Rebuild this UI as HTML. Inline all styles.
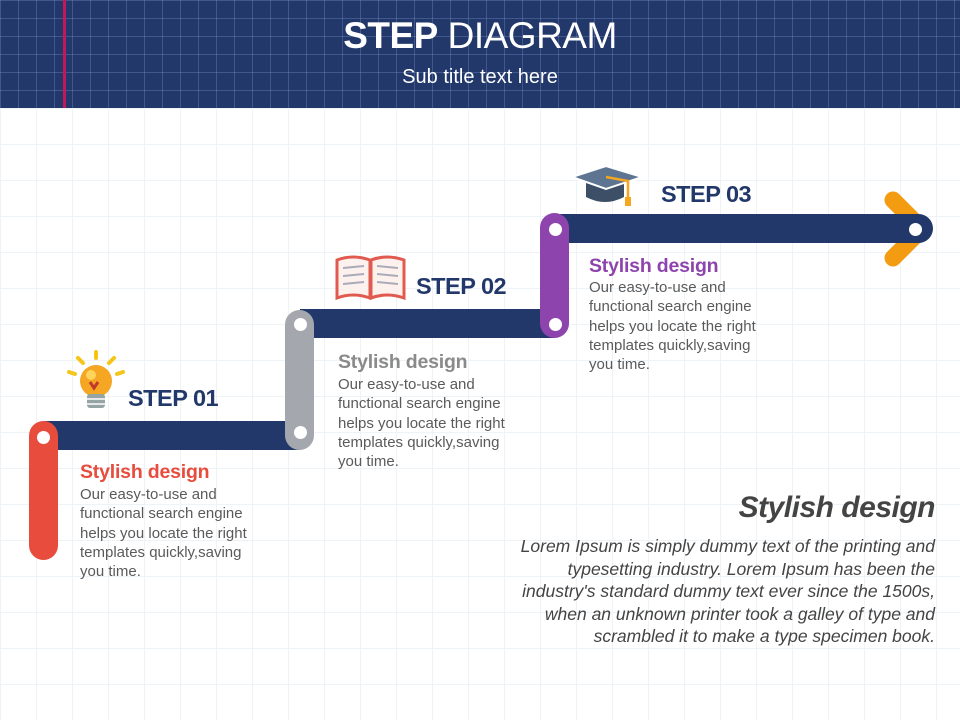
<!DOCTYPE html>
<html><head><meta charset="utf-8"><style>
*{margin:0;padding:0;box-sizing:border-box}
body{width:960px;height:720px;overflow:hidden;position:relative;font-family:"Liberation Sans",sans-serif;
background-color:#fff;
background-image:linear-gradient(#eef3f8 1px,transparent 1px),linear-gradient(90deg,#eef3f8 1px,transparent 1px);
background-size:36px 36px;background-position:0 0}
.hdr{position:absolute;left:0;top:0;width:960px;height:108px;background-color:#22386a;
background-image:linear-gradient(rgba(120,150,200,.35) 1px,transparent 1px),linear-gradient(90deg,rgba(120,150,200,.35) 1px,transparent 1px);
background-size:18px 18px}
.abs{position:absolute}
.bar{position:absolute;background:#22386a}
.v{position:absolute;border-radius:15px;width:29px}
.dot{position:absolute;width:13px;height:13px;border-radius:50%;background:#fff}
.step{position:absolute;font-weight:bold;font-size:23.5px;color:#22386a;letter-spacing:-0.5px}
.h{position:absolute;font-weight:bold;font-size:19.5px;letter-spacing:-0.2px}
.p{position:absolute;font-size:15px;line-height:19.3px;color:#5a5a5a;white-space:nowrap;letter-spacing:0px}
</style></head><body>
<div class="hdr"></div>
<div class="abs" style="left:63px;top:0;width:3px;height:108px;background:#c2185b"></div>
<div class="abs" style="left:0;top:15px;width:960px;text-align:center;color:#fff;font-size:37px;letter-spacing:-0.5px"><b>STEP</b> DIAGRAM</div>
<div class="abs" style="left:0;top:66px;width:960px;text-align:center;color:#fff;font-size:20px">Sub title text here</div>

<div class="bar" style="left:44px;top:421px;width:256px;height:29px"></div>
<div class="bar" style="left:300px;top:309px;width:255px;height:29px"></div>
<svg class="abs" style="left:880px;top:188px" width="60" height="82"><polyline points="13,12 42,41 13,70" fill="none" stroke="#f39c12" stroke-width="17" stroke-linecap="round" stroke-linejoin="round"/></svg>
<div class="bar" style="left:555px;top:214px;width:378px;height:29px;border-radius:0 15px 15px 0"></div>
<div class="v" style="left:29px;top:421px;height:139px;background:#e74c3c"></div>
<div class="v" style="left:285px;top:310px;height:140px;background:#a4a7ae"></div>
<div class="v" style="left:540px;top:213px;height:125px;background:#8e44ad"></div>
<div class="dot" style="left:37px;top:431px"></div>
<div class="dot" style="left:294px;top:318px"></div>
<div class="dot" style="left:294px;top:426px"></div>
<div class="dot" style="left:549px;top:223px"></div>
<div class="dot" style="left:549px;top:318px"></div>
<div class="dot" style="left:909px;top:223px"></div>

<svg class="abs" style="left:64px;top:348px" width="68" height="68">
<g stroke="#f5c518" stroke-width="4" stroke-linecap="round"><line x1="32" y1="4" x2="32" y2="10"/><line x1="14" y1="10" x2="19" y2="15"/><line x1="50" y1="10" x2="45" y2="15"/><line x1="5" y1="24" x2="11" y2="26"/><line x1="59" y1="24" x2="53" y2="26"/></g>
<circle cx="32" cy="33" r="16" fill="#f5a623"/><circle cx="27" cy="27" r="5" fill="#ffd45a"/>
<path d="M26 34l4 6 4-6" stroke="#c0392b" stroke-width="3" fill="none"/>
<rect x="23" y="46" width="18" height="14" rx="3" fill="#95a5a6"/><line x1="23" y1="51" x2="41" y2="51" stroke="#fff" stroke-width="1.5"/><line x1="23" y1="56" x2="41" y2="56" stroke="#fff" stroke-width="1.5"/>
</svg>
<svg class="abs" style="left:333px;top:252px" width="76" height="50">
<path d="M4 8 Q20 2 37 8 L37 46 Q20 40 4 46Z" fill="#fdf1ee" stroke="#e05a4f" stroke-width="3"/>
<path d="M71 8 Q54 2 38 8 L38 46 Q54 40 71 46Z" fill="#fdf1ee" stroke="#e05a4f" stroke-width="3"/>
<g stroke="#aab" stroke-width="2"><line x1="10" y1="16" x2="31" y2="14"/><line x1="10" y1="24" x2="31" y2="22"/><line x1="10" y1="32" x2="31" y2="30"/><line x1="44" y1="14" x2="65" y2="16"/><line x1="44" y1="22" x2="65" y2="24"/><line x1="44" y1="30" x2="65" y2="32"/></g>
</svg>
<svg class="abs" style="left:570px;top:163px" width="80" height="50">
<path d="M16 16 L16 34 Q35 44 54 34 L54 16Z" fill="#3d4f66"/>
<path d="M2 14 L36 3 L72 14 L36 26Z" fill="#5d7590" stroke="#fff" stroke-width="2"/>
<path d="M36 14 L58 18 L58 36" stroke="#f5a623" stroke-width="2.5" fill="none"/>
<rect x="55" y="34" width="6" height="9" fill="#f5a623"/>
</svg>

<div class="step" style="left:128px;top:385px">STEP 01</div>
<div class="step" style="left:416px;top:273px">STEP 02</div>
<div class="step" style="left:661px;top:181px">STEP 03</div>

<div class="h" style="left:80px;top:461px;color:#e74c3c">Stylish design</div>
<div class="p" style="left:80px;top:485px">Our easy-to-use and<br>functional search engine<br>helps you locate the right<br>templates quickly,saving<br>you time.</div>
<div class="h" style="left:338px;top:351px;color:#8a8a8a">Stylish design</div>
<div class="p" style="left:338px;top:375px">Our easy-to-use and<br>functional search engine<br>helps you locate the right<br>templates quickly,saving<br>you time.</div>
<div class="h" style="left:589px;top:255px;color:#8e44ad">Stylish design</div>
<div class="p" style="left:589px;top:278px">Our easy-to-use and<br>functional search engine<br>helps you locate the right<br>templates quickly,saving<br>you time.</div>

<div class="abs" style="right:25px;top:491px;font-size:30px;font-weight:bold;font-style:italic;color:#444;letter-spacing:-0.5px">Stylish design</div>
<div class="abs" style="right:25px;top:535px;text-align:right;font-size:17.5px;font-style:italic;line-height:22.5px;color:#444;white-space:nowrap">Lorem Ipsum is simply dummy text of the printing and<br>typesetting industry. Lorem Ipsum has been the<br>industry's standard dummy text ever since the 1500s,<br>when an unknown printer took a galley of type and<br>scrambled it to make a type specimen book.</div>
</body></html>
